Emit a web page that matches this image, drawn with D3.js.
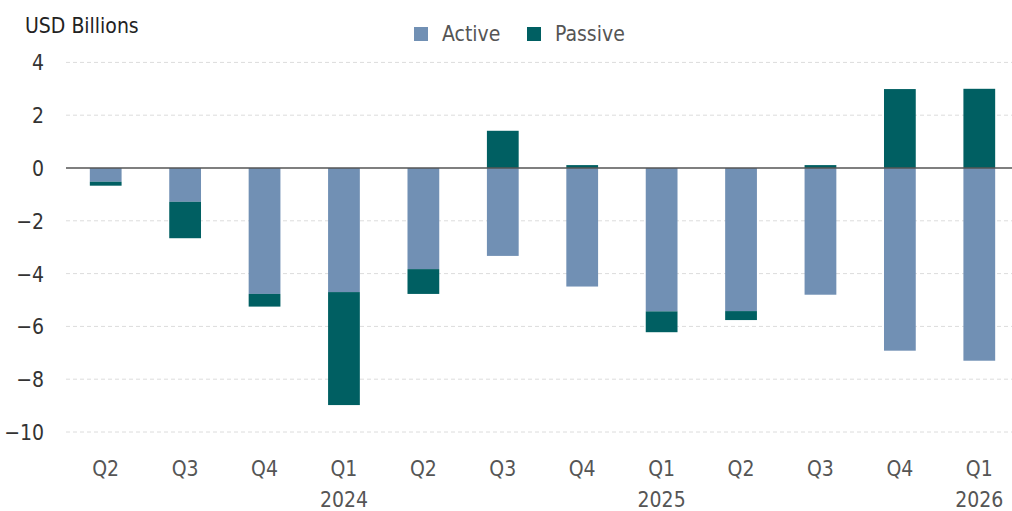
<!DOCTYPE html>
<html>
<head>
<meta charset="utf-8">
<script src="https://cdn.jsdelivr.net/npm/d3@7"></script>
<style>
  body { margin: 0; background: #fff; }
  svg text { font-family: "Liberation Sans Narrow", "DejaVu Sans Condensed", "Roboto", sans-serif; }
</style>
</head>
<body>
<div id="chart"></div>
<script>
// data
var quarters = ["Q2", "Q3", "Q4", "Q1", "Q2", "Q3", "Q4", "Q1", "Q2", "Q3", "Q4", "Q1"];
var years    = ["", "", "", "2024", "", "", "", "2025", "", "", "", "2026"];
var active   = [-0.52, -1.28, -4.77, -4.70, -3.83, -3.33, -4.49, -5.43, -5.42, -4.80, -6.92, -7.30];
var passive  = [-0.15, -1.38, -0.48, -4.28, -0.94, 1.41, 0.11, -0.79, -0.34, 0.11, 2.99, 3.00];
var yTicks   = [4, 2, 0, -2, -4, -6, -8, -10];

var seriesNames = ["Active", "Passive"];
var colors = { Active: "#7190b4", Passive: "#005f62" };

// svg container
var svgWidth = 1012, svgHeight = 511;
var svg = d3.select("#chart").append("svg")
    .attr("width", svgWidth)
    .attr("height", svgHeight);

var plotLeft = 66, plotRight = 1012;

var rows = quarters.map(function(q, i) {
    return { idx: i, Active: active[i], Passive: passive[i] };
});

var xScale = d3.scaleBand()
    .domain(rows.map(d => d.idx))
    .range([66, 1019])
    .paddingInner(0.6)
    .paddingOuter(0.3);

var yScale = d3.scaleLinear()
    .domain([-10, 4])
    .range([432, 62.4]);

// grid lines
svg.append("g")
  .selectAll("line")
  .data(yTicks.filter(d => d !== 0))
  .enter().append("line")
    .attr("x1", plotLeft)
    .attr("x2", plotRight)
    .attr("y1", d => yScale(d))
    .attr("y2", d => yScale(d))
    .attr("stroke", "#dcdcdc")
    .attr("stroke-width", 1)
    .attr("stroke-dasharray", "4,3");

// y axis labels
var yAxis = d3.axisLeft(yScale).tickValues(yTicks).tickSize(0).tickPadding(0);
var yg = svg.append("g")
    .attr("transform", "translate(44,0)")
    .call(yAxis);
yg.select(".domain").remove();
yg.selectAll("text")
    .attr("fill", "#333")
    .style("font-size", "21px")
    .attr("dy", "0.36em");

// stacked bars
var stacked = d3.stack()
    .keys(seriesNames)
    .offset(d3.stackOffsetDiverging)(rows);

svg.append("g")
  .selectAll("g")
  .data(stacked)
  .enter().append("g")
    .attr("fill", d => colors[d.key])
  .selectAll("rect")
  .data(d => d)
  .enter().append("rect")
    .attr("x", d => xScale(d.data.idx))
    .attr("width", xScale.bandwidth())
    .attr("y", d => yScale(Math.max(d[0], d[1])))
    .attr("height", d => Math.abs(yScale(d[0]) - yScale(d[1])));

// zero line
svg.append("line")
    .attr("x1", plotLeft)
    .attr("x2", plotRight)
    .attr("y1", yScale(0))
    .attr("y2", yScale(0))
    .attr("stroke", "#555")
    .attr("stroke-width", 1.5);

// x labels
var xg = svg.append("g");
xg.selectAll("text.q")
  .data(rows)
  .enter().append("text")
    .attr("class", "q")
    .attr("x", d => xScale(d.idx) + xScale.bandwidth() / 2)
    .attr("y", 476)
    .attr("text-anchor", "middle")
    .attr("fill", "#555")
    .style("font-size", "21px")
    .text(d => quarters[d.idx]);

xg.selectAll("text.yr")
  .data(rows.filter(d => years[d.idx] !== ""))
  .enter().append("text")
    .attr("class", "yr")
    .attr("x", d => xScale(d.idx) + xScale.bandwidth() / 2)
    .attr("y", 507)
    .attr("text-anchor", "middle")
    .attr("fill", "#555")
    .style("font-size", "21px")
    .text(d => years[d.idx]);

// title
svg.append("text")
    .attr("x", 25)
    .attr("y", 33)
    .attr("fill", "#222")
    .style("font-size", "21px")
    .text("USD Billions");

// legend
var legendX = [414, 527];
var legend = svg.append("g")
  .selectAll("g")
  .data(seriesNames)
  .enter().append("g")
    .attr("transform", (d, i) => `translate(${legendX[i]}, 27)`);

legend.append("rect")
    .attr("width", 14)
    .attr("height", 14)
    .attr("fill", d => colors[d]);

legend.append("text")
    .attr("x", 28)
    .attr("y", 14)
    .attr("fill", "#555")
    .style("font-size", "21px")
    .text(d => d);
</script>
</body>
</html>
